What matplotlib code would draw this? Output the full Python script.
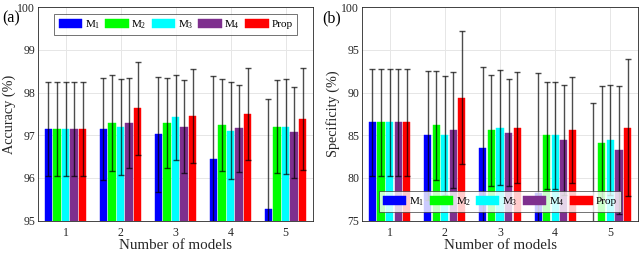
import numpy as np
import matplotlib
matplotlib.use("Agg")
import matplotlib.pyplot as plt

plt.rcParams['font.family'] = ['Liberation Serif', 'DejaVu Serif']
plt.rcParams['mathtext.default'] = 'regular'

groups = [1, 2, 3, 4, 5]
series = ['$M_1$', '$M_2$', '$M_3$', '$M_4$', 'Prop']
colors = ['#0000FF', '#00FF00', '#00FFFF', '#7E2F8E', '#FF0000']

# Accuracy (%) mean and std for each series over groups 1..5
acc_m1 = [97.15, 97.15, 97.02, 96.45, 95.27]
acc_m2 = [97.15, 97.29, 97.29, 97.24, 97.20]
acc_m3 = [97.15, 97.20, 97.42, 97.11, 97.20]
acc_m4 = [97.15, 97.29, 97.20, 97.16, 97.07]
acc_prop = [97.15, 97.63, 97.46, 97.50, 97.38]
acc_err_m1 = [1.10, 1.20, 1.35, 1.93, 2.58]
acc_err_m2 = [1.10, 1.13, 1.06, 1.08, 1.09]
acc_err_m3 = [1.10, 1.12, 1.00, 1.14, 1.11]
acc_err_m4 = [1.10, 1.06, 1.09, 1.02, 1.07]
acc_err_prop = [1.10, 1.10, 1.10, 1.08, 1.20]

# Specificity (%) mean and std
spe_m1 = [86.52, 85.00, 83.55, 78.28, 73.50]
spe_m2 = [86.52, 86.17, 85.59, 85.00, 84.14]
spe_m3 = [86.52, 85.00, 85.90, 85.00, 84.45]
spe_m4 = [86.52, 85.62, 85.31, 84.41, 83.24]
spe_prop = [86.52, 89.41, 85.90, 85.62, 85.90]
spe_err_m1 = [6.30, 7.54, 9.50, 14.06, 15.25]
spe_err_m2 = [6.30, 6.41, 6.48, 6.25, 6.68]
spe_err_m3 = [6.30, 7.00, 6.76, 6.25, 6.41]
spe_err_m4 = [6.30, 6.76, 6.25, 6.45, 7.50]
spe_err_prop = [6.30, 7.78, 6.52, 6.18, 8.00]

acc_vals = [acc_m1, acc_m2, acc_m3, acc_m4, acc_prop]
acc_errs = [acc_err_m1, acc_err_m2, acc_err_m3, acc_err_m4, acc_err_prop]
spe_vals = [spe_m1, spe_m2, spe_m3, spe_m4, spe_prop]
spe_errs = [spe_err_m1, spe_err_m2, spe_err_m3, spe_err_m4, spe_err_prop]

fig = plt.figure(figsize=(6.4, 2.68), dpi=100)
ax1 = fig.add_axes([0.0594, 0.177, 0.4297, 0.7956])
ax2 = fig.add_axes([0.5656, 0.177, 0.4313, 0.7956])

spacing = 0.155
width = 0.13
x = np.array(groups, dtype=float)


def draw(ax, vals, errs, ylim, yticks, ylabel, legend_loc, legend_anchor):
    handles = []
    for i, (v, e, c) in enumerate(zip(vals, errs, colors)):
        pos = x + (i - 2) * spacing
        b = ax.bar(pos, v, width=width, color=c, edgecolor=c, linewidth=0.3,
                   label=series[i], zorder=2)
        ax.errorbar(pos, v, yerr=e, fmt='none', ecolor='black', alpha=0.7,
                    elinewidth=1.0, capsize=2.2, capthick=1.0, zorder=3)
        handles.append(b)
    ax.set_xlim(0.5, 5.5)
    ax.set_ylim(*ylim)
    ax.set_yticks(yticks)
    ax.set_xticks(groups)
    ax.grid(True, color='#e6e6e6', linewidth=0.7, zorder=0)
    ax.set_axisbelow(True)
    ax.tick_params(labelsize=8.5, length=0, colors='#262626', pad=2)
    ax.tick_params(axis='x', pad=4.5)
    for s in ax.spines.values():
        s.set_color('#262626')
        s.set_linewidth(0.6)
    ax.set_xlabel('Number of models', fontsize=10.8, color='#262626', labelpad=0)
    ax.set_ylabel(ylabel, fontsize=10.3, color='#262626', labelpad=1)
    leg = ax.legend(handles=handles, loc=legend_loc, bbox_to_anchor=legend_anchor,
                    ncol=5, fontsize=8, frameon=True, fancybox=False,
                    handlelength=2.1, handleheight=0.85, handletextpad=0.25,
                    columnspacing=0.45, borderpad=0.4, borderaxespad=0.0)
    leg.get_frame().set_edgecolor('#333333')
    leg.get_frame().set_linewidth(0.6)
    leg.set_zorder(5)


draw(ax1, acc_vals, acc_errs, (95, 100), [95, 96, 97, 98, 99, 100],
     'Accuracy (%)', 'upper center', (0.5, 0.97))
draw(ax2, spe_vals, spe_errs, (75, 100), [75, 80, 85, 90, 95, 100],
     'Specificity (%)', 'lower center', (0.5, 0.04))

fig.text(0.004, 0.93, '(a)', fontsize=11.5, ha='left', va='center')
fig.text(0.503, 0.93, '(b)', fontsize=11.5, ha='left', va='center')

fig.savefig('out.png', dpi=100)
